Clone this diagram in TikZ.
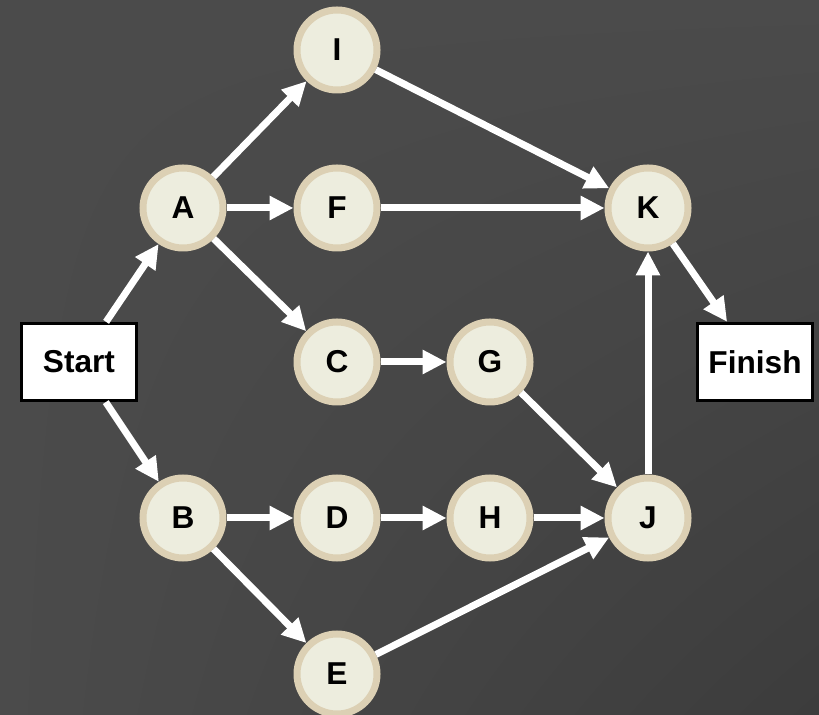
\documentclass[tikz,border=0pt]{standalone}
\usepackage{fontspec}
\setmainfont{Liberation Sans}
\usepackage{tikz}
\usetikzlibrary{arrows.meta,positioning,calc,shadings}
\usepackage{xcolor}
\definecolor{bglight}{RGB}{75,75,75}
\definecolor{bgdark}{RGB}{60,60,60}
\definecolor{nodefill}{RGB}{237,237,222}
\definecolor{noderim}{RGB}{220,208,180}

\begin{document}
\begin{tikzpicture}[
  task/.style={circle, draw=noderim, fill=nodefill, line width=0.14cm, minimum size=1.6cm, inner sep=0pt, font=\fontsize{18}{20}\selectfont\bfseries},
  term/.style={draw=black, fill=white, line width=1.6pt, minimum width=2.3cm, minimum height=1.55cm, inner sep=2pt, font=\fontsize{18}{20}\selectfont\bfseries},
  link/.style={draw=white, line width=0.14cm, -{Triangle[length=0.48cm,width=0.46cm]}},
]
  % background
  \shade[upper left=bglight, upper right=bglight, lower left=bglight, lower right=bgdark] (0,0) rectangle (16.38,14.3);
  \useasboundingbox (0,0) rectangle (16.38,14.3);

  \node[term] (start) at (1.58,7.06) {Start};
  \node[term] (finish) at (15.10,7.06) {Finish};

  \node[task] (a) at (3.66,10.14) {A};
  \node[task] (b) at (3.66,3.94) {B};
  \node[task] (i) at (6.74,13.30) {I};
  \node[task] (f) at (6.74,10.14) {F};
  \node[task] (c) at (6.74,7.06) {C};
  \node[task] (d) at (6.74,3.94) {D};
  \node[task] (e) at (6.74,0.82) {E};
  \node[task] (g) at (9.80,7.06) {G};
  \node[task] (h) at (9.80,3.94) {H};
  \node[task] (k) at (12.96,10.14) {K};
  \node[task] (j) at (12.96,3.94) {J};

  % precedence links
  \foreach \from/\to in {start/a, start/b, a/i, a/f, a/c, i/k, f/k, c/g, g/j, b/d, b/e, d/h, h/j, e/j, j/k, k/finish}
    \draw[link] (\from) -- (\to);
\end{tikzpicture}
\end{document}
